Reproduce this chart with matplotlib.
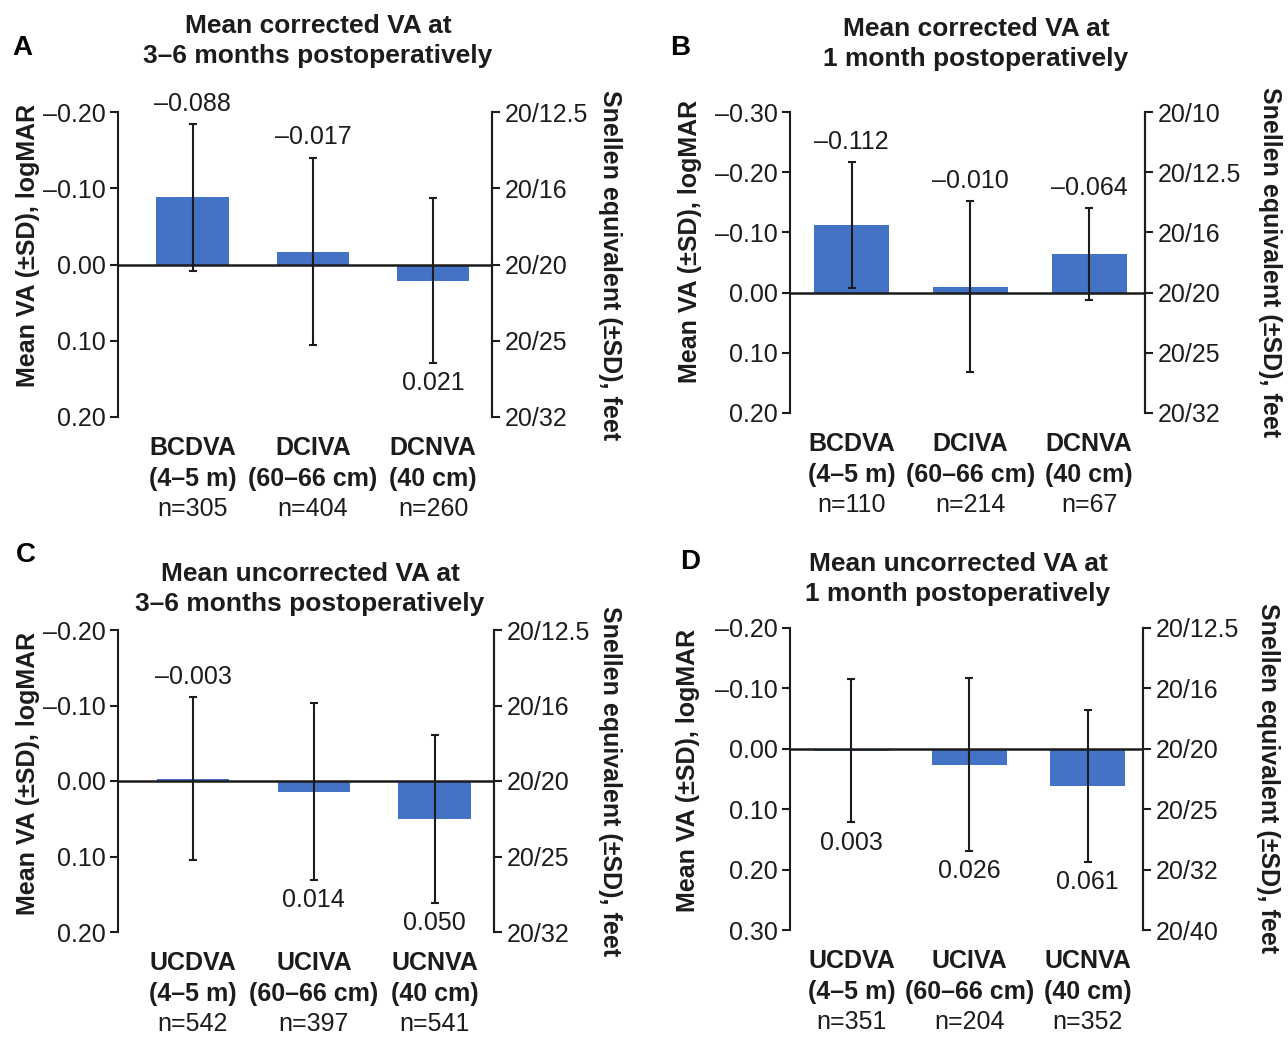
import matplotlib
matplotlib.use("Agg")
import matplotlib.pyplot as plt

plt.rcParams['font.family'] = ['Liberation Sans', 'DejaVu Sans']

TXT = '#1c1c1c'
BAR = '#4472C4'
FS = 18

# ---- data ----
cats_corr = ['BCDVA', 'DCIVA', 'DCNVA']
cats_unc = ['UCDVA', 'UCIVA', 'UCNVA']
dists = ['(4–5 m)', '(60–66 cm)', '(40 cm)']

n_A = [305, 404, 260]
mean_A = [-0.088, -0.017, 0.021]
sd_A = [0.096, 0.123, 0.108]

n_B = [110, 214, 67]
mean_B = [-0.112, -0.010, -0.064]
sd_B = [0.105, 0.142, 0.076]

n_C = [542, 397, 541]
mean_C = [-0.003, 0.014, 0.050]
sd_C = [0.108, 0.117, 0.111]

n_D = [351, 204, 352]
mean_D = [0.003, 0.026, 0.061]
sd_D = [0.119, 0.143, 0.126]

yt_A = [-0.20, -0.10, 0.00, 0.10, 0.20]
yt_B = [-0.30, -0.20, -0.10, 0.00, 0.10, 0.20]
yt_D = [-0.20, -0.10, 0.00, 0.10, 0.20, 0.30]
sn_A = ['20/12.5', '20/16', '20/20', '20/25', '20/32']
sn_B = ['20/10', '20/12.5', '20/16', '20/20', '20/25', '20/32']
sn_D = ['20/12.5', '20/16', '20/20', '20/25', '20/32', '20/40']

titles = {
    'A': 'Mean corrected VA at\n3–6 months postoperatively',
    'B': 'Mean corrected VA at\n1 month postoperatively',
    'C': 'Mean uncorrected VA at\n3–6 months postoperatively',
    'D': 'Mean uncorrected VA at\n1 month postoperatively',
}

W, H = 1288, 1038
fig = plt.figure(figsize=(W / 100, H / 100), dpi=100)
fig.patch.set_facecolor('white')


def fx(px):
    return px / W


def fy(py):
    return 1 - py / H


def fmt(v):
    s = f"{abs(v):.2f}"
    return ('–' + s) if v < 0 else s


def fmtv(v):
    s = f"{abs(v):.3f}"
    return ('–' + s) if v < 0 else s


def panel(letter, rect_px, cats, n, means, sds, yticks, snellen, xlim, bw,
          title_xy, letter_xy, ylab_xy, rlab_xy):
    l, t, r, b = rect_px
    ax = fig.add_axes([fx(l), fy(b), fx(r) - fx(l), fy(t) - fy(b)])
    x = list(range(len(cats)))
    ax.bar(x, means, width=bw, color=BAR, zorder=2)
    ax.axhline(0, color=TXT, lw=1.8, zorder=3)
    ax.errorbar(x, means, yerr=sds, fmt='none', ecolor=TXT, elinewidth=1.5,
                capsize=3, capthick=1.5, zorder=4)
    ax.set_xlim(*xlim)
    ax.set_ylim(yticks[-1], yticks[0])
    ax.set_yticks(yticks)
    ax.set_yticklabels([fmt(v) for v in yticks])
    ax.set_xticks([])
    for s in ['top', 'bottom']:
        ax.spines[s].set_visible(False)
    for s in ['left', 'right']:
        ax.spines[s].set_linewidth(1.5)
        ax.spines[s].set_color(TXT)
    ax.tick_params(axis='y', direction='out', length=6, width=1.5,
                   labelsize=FS, colors=TXT, pad=3)
    ax2 = ax.twinx()
    ax2.set_ylim(ax.get_ylim())
    ax2.set_yticks(yticks)
    ax2.set_yticklabels(snellen)
    for s in ['top', 'bottom', 'left']:
        ax2.spines[s].set_visible(False)
    ax2.spines['right'].set_linewidth(1.5)
    ax2.spines['right'].set_color(TXT)
    ax2.tick_params(axis='y', direction='out', length=6, width=1.5,
                    labelsize=FS, colors=TXT, pad=3)
    ax.patch.set_visible(False)

    for xi, m, s in zip(x, means, sds):
        if m < 0:
            ax.annotate(fmtv(m), xy=(xi, m - s), xytext=(0, 6),
                        textcoords='offset points', ha='center', va='bottom',
                        fontsize=FS, color=TXT)
        else:
            ax.annotate(fmtv(m), xy=(xi, m + s), xytext=(0, -6),
                        textcoords='offset points', ha='center', va='top',
                        fontsize=FS, color=TXT)

    for xi, c, d, nn in zip(x, cats, dists, n):
        ax.annotate(c, xy=(xi, 0), xycoords=('data', 'axes fraction'),
                    xytext=(0, -22), textcoords='offset points',
                    ha='center', va='center', fontsize=FS, fontweight='bold',
                    color=TXT)
        ax.annotate(d, xy=(xi, 0), xycoords=('data', 'axes fraction'),
                    xytext=(0, -44.5), textcoords='offset points',
                    ha='center', va='center', fontsize=FS, fontweight='bold',
                    color=TXT)
        ax.annotate(f"n={nn}", xy=(xi, 0), xycoords=('data', 'axes fraction'),
                    xytext=(0, -66.5), textcoords='offset points',
                    ha='center', va='center', fontsize=FS, color=TXT)

    fig.text(fx(title_xy[0]), fy(title_xy[1]), titles[letter], ha='center',
             va='center', fontsize=19, fontweight='bold', color=TXT,
             linespacing=1.35)
    fig.text(fx(letter_xy[0]), fy(letter_xy[1]), letter, ha='center',
             va='center', fontsize=20, fontweight='bold', color='black')
    fig.text(fx(ylab_xy[0]), fy(ylab_xy[1]), 'Mean VA (±SD), logMAR',
             rotation=90, ha='center', va='center', fontsize=FS,
             fontweight='bold', color=TXT)
    fig.text(fx(rlab_xy[0]), fy(rlab_xy[1]), 'Snellen equivalent (±SD), feet',
             rotation=-90, ha='center', va='center', fontsize=FS,
             fontweight='bold', color=TXT)


panel('A', (118, 112, 492, 417), cats_corr, n_A, mean_A, sd_A, yt_A, sn_A,
      (-0.62, 2.49), 0.6, (318, 41), (22, 48), (28, 245), (610, 265))
panel('B', (790, 112, 1145, 413), cats_corr, n_B, mean_B, sd_B, yt_B, sn_B,
      (-0.52, 2.47), 0.63, (976, 44), (680, 48), (690, 241), (1270, 262))
panel('C', (118, 630, 494, 932), cats_unc, n_C, mean_C, sd_C, yt_A, sn_A,
      (-0.62, 2.49), 0.6, (310, 589), (26, 555), (28, 773), (610, 781))
panel('D', (790, 628, 1143, 930), cats_unc, n_D, mean_D, sd_D, yt_D, sn_D,
      (-0.52, 2.47), 0.63, (958, 579), (690, 562), (688, 770), (1268, 778))

fig.savefig('out.png', dpi=100, facecolor='white')
